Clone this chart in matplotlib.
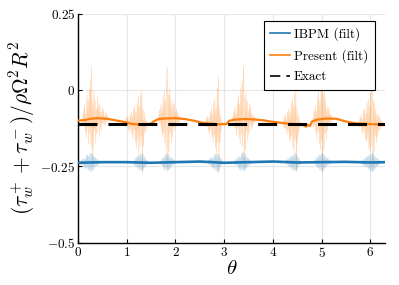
import numpy as np
import matplotlib
matplotlib.use("Agg")
from matplotlib import pyplot as plt

plt.rcParams['mathtext.fontset'] = 'cm'
plt.rcParams['font.family'] = 'serif'
plt.rcParams['font.serif'] = ['cmr10', 'DejaVu Serif']
plt.rcParams['axes.unicode_minus'] = False

# filtered wall stress
present_theta = [0.0, 0.15, 0.25, 0.4, 0.6, 0.8, 1.0, 1.1, 1.3, 1.5, 1.55, 1.65, 1.8, 2.0,
                 2.2, 2.4, 2.55, 2.7, 2.9, 3.05, 3.1, 3.2, 3.4, 3.6, 3.8, 4.0, 4.2, 4.3,
                 4.45, 4.6, 4.68, 4.72, 4.76, 4.8, 4.9, 5.1, 5.3, 5.5, 5.7, 5.9, 6.1, 6.3]
present_filt = [-0.100, -0.098, -0.094, -0.092, -0.094, -0.100, -0.106, -0.111, -0.113,
                -0.110, -0.103, -0.095, -0.093, -0.092, -0.095, -0.101, -0.107, -0.110,
                -0.112, -0.111, -0.101, -0.097, -0.095, -0.096, -0.099, -0.104, -0.108,
                -0.110, -0.111, -0.113, -0.120, -0.114, -0.118, -0.103, -0.097, -0.093,
                -0.094, -0.103, -0.109, -0.111, -0.112, -0.112]

ibpm_theta = [0.0, 0.5, 1.0, 1.5, 2.0, 2.5, 3.0, 3.5, 4.0, 4.5, 5.0, 5.5, 6.0, 6.3]
ibpm_filt = [-0.238, -0.236, -0.236, -0.238, -0.236, -0.234, -0.238, -0.236, -0.234,
             -0.237, -0.236, -0.235, -0.237, -0.236]

exact_value = -0.11

# raw (unfiltered) bursts: centres, samples 0.012 rad apart, offset from filtered curve
burst_centers = [0.28, 1.31, 1.83, 2.88, 3.40, 4.47, 5.01, 6.04]
present_peak_idx = [16, 28, 15, 22, 19, 22, 16, 23]
present_spikes = [
    [0.01, -0.02, 0.035, -0.01, 0.05, -0.04, 0.02, -0.06, 0.08, -0.03, 0.06, -0.08, 0.10, -0.05, 0.13, -0.09,
     0.17,
     -0.155, 0.05, -0.10, 0.09, -0.04, 0.06, -0.08, 0.03, -0.05, 0.07, -0.02, 0.04, -0.06, 0.05, -0.03,
     0.02, -0.04, 0.035, -0.015, 0.03, -0.02, 0.01, -0.025, 0.02, -0.01, 0.015, -0.01, 0.008, -0.005],
    [0.008, -0.01, 0.015, -0.005, 0.02, -0.02, 0.01, -0.03, 0.03, -0.015, 0.04, -0.035, 0.025, -0.05,
     0.05, -0.02, 0.06, -0.06, 0.04, -0.08, 0.07, -0.05, 0.09, -0.1, 0.06, -0.07, 0.1, -0.04,
     0.11,
     -0.158, 0.05, -0.07, 0.04, -0.03, 0.02, -0.02, 0.01, -0.005],
    [0.01, -0.015, 0.03, -0.02, 0.045, -0.04, 0.03, -0.06, 0.07, -0.05, 0.09, -0.08, 0.06, -0.1, 0.12,
     0.168,
     -0.165, 0.08, -0.11, 0.1, -0.05, 0.07, -0.08, 0.04, -0.06, 0.06, -0.03, 0.045, -0.04, 0.02, -0.03,
     0.03, -0.015, 0.02, -0.02, 0.01, -0.01, 0.005],
    [0.008, -0.012, 0.02, -0.01, 0.025, -0.025, 0.015, -0.035, 0.04, -0.02, 0.05, -0.045, 0.03, -0.06,
     0.07, -0.04, 0.08, -0.08, 0.05, -0.1, 0.12, -0.06,
     0.158,
     -0.157, 0.05, -0.06, 0.03, -0.02, 0.01, -0.005],
    [0.01, -0.015, 0.025, -0.01, 0.04, -0.03, 0.02, -0.05, 0.06, -0.03, 0.08, -0.06, 0.05, -0.08, 0.1,
     -0.05, 0.12, -0.09, 0.14,
     0.172,
     -0.163, 0.07, -0.1, 0.09, -0.04, 0.06, -0.07, 0.03, -0.05, 0.05, -0.02, 0.04, -0.035, 0.02, -0.025,
     0.015, -0.015, 0.01, -0.008, 0.005],
    [0.008, -0.012, 0.02, -0.015, 0.03, -0.02, 0.015, -0.035, 0.04, -0.025, 0.05, -0.05, 0.035, -0.06,
     0.07, -0.04, 0.08, -0.08, 0.06, -0.09, 0.1, -0.05,
     0.115,
     -0.15, 0.05, -0.06, 0.03, -0.03, 0.015, -0.01, 0.005],
    [0.01, -0.02, 0.03, -0.015, 0.045, -0.04, 0.03, -0.06, 0.07, -0.04, 0.09, -0.08, 0.06, -0.1, 0.12, -0.07,
     0.168,
     -0.177, 0.08, -0.1, 0.09, -0.05, 0.06, -0.07, 0.03, -0.04, 0.04, -0.02, 0.03, -0.025, 0.015, -0.01,
     0.01, -0.005],
    [0.008, -0.012, 0.02, -0.01, 0.03, -0.025, 0.015, -0.035, 0.045, -0.02, 0.05, -0.05, 0.035, -0.06,
     0.07, -0.045, 0.08, -0.08, 0.06, -0.09, 0.1, -0.07, 0.12,
     0.17,
     -0.15, 0.08, -0.09, 0.07, -0.04, 0.05, -0.06, 0.03, -0.04, 0.035, -0.02, 0.025, -0.02, 0.015, -0.01,
     0.01, -0.008, 0.005, -0.003],
]
ibpm_peak_idx = [19, 14, 11, 19, 16, 18, 13, 20]
ibpm_spikes = [
    [0.004, -0.006, 0.008, -0.005, 0.012, -0.01, 0.014, -0.016, 0.012, -0.02, 0.022, -0.018, 0.026,
     -0.024, 0.02, -0.028, 0.03, -0.025, 0.028,
     -0.032,
     0.03, -0.026, 0.022, -0.024, 0.018, -0.015, 0.016, -0.012, 0.01, -0.01, 0.008, -0.006, 0.005,
     -0.004, 0.003],
    [0.005, -0.008, 0.01, -0.012, 0.015, -0.012, 0.02, -0.018, 0.024, -0.022, 0.02, -0.027, 0.028, -0.025,
     0.03,
     -0.03, 0.026, -0.022, 0.02, -0.016, 0.012, -0.012, 0.008, -0.006, 0.005, -0.003, 0.002],
    [0.005, -0.008, 0.012, -0.01, 0.016, -0.02, 0.018, -0.024, 0.026, -0.022, 0.028,
     -0.03,
     0.03, -0.026, 0.024, -0.022, 0.018, -0.02, 0.015, -0.012, 0.012, -0.009, 0.008, -0.006, 0.005,
     -0.004, 0.004, -0.003, 0.002, -0.002],
    [0.003, -0.005, 0.006, -0.008, 0.01, -0.008, 0.013, -0.014, 0.016, -0.018, 0.015, -0.022, 0.024,
     -0.02, 0.026, -0.028, 0.024, -0.03, 0.028,
     -0.032,
     0.026, -0.022, 0.018, -0.014, 0.012, -0.008, 0.006, -0.004, 0.003, -0.002],
    [0.004, -0.006, 0.008, -0.01, 0.012, -0.01, 0.016, -0.018, 0.02, -0.022, 0.018, -0.026, 0.028,
     -0.024, 0.03, -0.028,
     0.032,
     -0.03, 0.028, -0.024, 0.022, -0.02, 0.016, -0.014, 0.012, -0.01, 0.008, -0.006, 0.005, -0.004,
     0.003, -0.002, 0.002],
    [0.004, -0.004, 0.007, -0.008, 0.009, -0.011, 0.012, -0.015, 0.017, -0.016, 0.02, -0.022, 0.023,
     -0.026, 0.022, -0.028, 0.03, -0.026,
     0.032,
     -0.03, 0.024, -0.02, 0.016, -0.012, 0.01, -0.007, 0.005, -0.003, 0.002],
    [0.005, -0.007, 0.01, -0.012, 0.014, -0.017, 0.02, -0.018, 0.024, -0.026, 0.022, -0.028, 0.03,
     -0.032,
     0.03, -0.027, 0.025, -0.022, 0.02, -0.018, 0.016, -0.013, 0.012, -0.01, 0.009, -0.007, 0.006,
     -0.005, 0.004, -0.003, 0.003, -0.002, 0.002],
    [0.003, -0.004, 0.006, -0.007, 0.008, -0.01, 0.011, -0.012, 0.014, -0.016, 0.018, -0.016, 0.02,
     -0.022, 0.024, -0.022, 0.026, -0.028, 0.026, -0.03,
     0.032,
     -0.03, 0.028, -0.026, 0.022, -0.02, 0.018, -0.015, 0.014, -0.012, 0.01, -0.008, 0.007, -0.006,
     0.005, -0.004, 0.003, -0.003, 0.002, -0.002],
]
sample_step = 0.012

x_ticks = [0, 1, 2, 3, 4, 5, 6]
y_ticks = [-0.5, -0.25, 0, 0.25]
y_ticklabels = ['$-0.5$', '$-0.25$', '$0$', '$0.25$']

blue = '#1f77b4'
orange = '#ff7f0e'

fig = plt.figure(figsize=(3.99, 2.85), dpi=100)
ax = fig.add_axes([0.1955, 0.148, 0.7695, 0.804])


def burst_line(centers, peaks, spikes, base_t, base_v, color, alpha):
    for c, k, s in zip(centers, peaks, spikes):
        t = c + (np.arange(len(s)) - k) * sample_step
        v = np.interp(t, base_t, base_v) + np.array(s)
        ax.plot(t, v, color=color, lw=0.45, alpha=alpha, zorder=2)


burst_line(burst_centers, present_peak_idx, present_spikes, present_theta, present_filt, orange, 0.35)
burst_line(burst_centers, ibpm_peak_idx, ibpm_spikes, ibpm_theta, ibpm_filt, blue, 0.3)

ax.plot(ibpm_theta, ibpm_filt, color=blue, lw=1.9, label='IBPM (filt)', zorder=3)
ax.plot(present_theta, present_filt, color=orange, lw=1.6, label='Present (filt)', zorder=3)
ax.plot([0, 6.3], [exact_value, exact_value], color='black', lw=2.2,
        ls=(0, (6.2, 3.6)), dash_capstyle='butt', label='Exact', zorder=4)

ax.set_xlim(0, 6.3)
ax.set_ylim(-0.5, 0.25)
ax.set_xticks(x_ticks)
ax.set_xticklabels(['$%d$' % t for t in x_ticks])
ax.set_yticks(y_ticks)
ax.set_yticklabels(y_ticklabels)
ax.tick_params(direction='in', length=3, width=0.8, labelsize=9.5, pad=2)
ax.grid(True, color='#e6e6e6', lw=0.8)
ax.set_axisbelow(True)
for side in ('top', 'right'):
    ax.spines[side].set_visible(False)
for side in ('left', 'bottom'):
    ax.spines[side].set_linewidth(1.0)

ax.set_xlabel(r'$\theta$', fontsize=15, labelpad=0)
ax.set_ylabel(r'$(\tau_w^+ + \tau_w^-)/\rho\Omega^2R^2$', fontsize=15.5, labelpad=2)

h, l = ax.get_legend_handles_labels()
leg = ax.legend(h, l, loc='upper right', bbox_to_anchor=(0.967, 0.968), fontsize=9.5,
                fancybox=False, framealpha=1, edgecolor='black', handlelength=1.5,
                borderpad=0.5, labelspacing=0.6, handletextpad=0.3, borderaxespad=0)
leg.get_frame().set_linewidth(0.8)
for line in leg.get_lines():
    line.set_linewidth(1.2)

fig.savefig('out.png', dpi=100)
